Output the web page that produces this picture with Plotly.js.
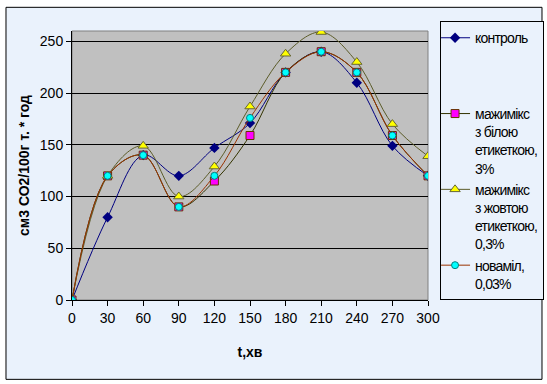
<!DOCTYPE html>
<html>
<head>
<meta charset="utf-8">
<script src="https://cdn.plot.ly/plotly-3.0.1.min.js"></script>
<style>
html,body{margin:0;padding:0;background:#fff;}
#chart{width:547px;height:384px;}
.legendtext{letter-spacing:-0.8px;}
</style>
</head>
<body>
<div id="chart"></div>
<script>
var timeMin = [0, 30, 60, 90, 120, 150, 180, 210, 240, 270, 300];
var control = [0, 80, 140, 120, 147, 171, 220, 240, 210, 149, 120];
var whiteLabel = [0, 120, 140, 90, 115, 159, 220, 240, 220, 159, 120];
var yellowLabel = [0, 120, 149, 100, 129, 187, 238, 259, 230, 170, 139];
var novamil = [0, 120, 140, 90, 120, 176, 220, 240, 220, 159, 120];
var seriesNames = [
  'контроль<br> <br> <br> ',
  'мажимікс<br>з білою<br>етикеткою,<br>3%',
  'мажимікс<br>з жовтою<br>етикеткою,<br>0,3%',
  'новамiл,<br>0,03%'
];
var xTickVals = [0, 30, 60, 90, 120, 150, 180, 210, 240, 270, 300];
var yTickVals = [0, 50, 100, 150, 200, 250];

var font = 'Liberation Sans, Arial, sans-serif';
var traces = [
  {x: timeMin, y: control, name: seriesNames[0], mode: 'lines+markers', line: {color: '#000080', width: 1, shape: 'spline', smoothing: 1},
   marker: {symbol: 'diamond', size: 8, color: '#000080'}},
  {x: timeMin, y: whiteLabel, name: seriesNames[1], mode: 'lines+markers', line: {color: '#333300', width: 1, shape: 'spline', smoothing: 1},
   marker: {symbol: 'square', size: 8, color: '#FF00FF', line: {color: '#663300', width: 1}}},
  {x: timeMin, y: yellowLabel, name: seriesNames[2], mode: 'lines+markers', line: {color: '#5C5C29', width: 1, shape: 'spline', smoothing: 1},
   marker: {symbol: 'triangle-up', size: 9, color: '#FFFF00', line: {color: '#666633', width: 1}}},
  {x: timeMin, y: novamil, name: seriesNames[3], mode: 'lines+markers', line: {color: '#993300', width: 1, shape: 'spline', smoothing: 1},
   marker: {symbol: 'circle', size: 7, color: '#00FFFF', line: {color: '#008080', width: 1}}}
];

var layout = {
  width: 547, height: 384,
  margin: {l: 72, r: 119, t: 31, b: 83.5, pad: 0, autoexpand: false},
  paper_bgcolor: '#FFFFFF',
  plot_bgcolor: '#C0C0C0',
  font: {family: font, size: 14, color: '#000'},
  showlegend: true,
  legend: {
    x: 1.326, y: 0.518, xanchor: 'right', yanchor: 'middle',
    bgcolor: '#EAF2FC', bordercolor: '#000', borderwidth: 1,
    font: {family: font, size: 14, color: '#000'},
    valign: 'top', tracegroupgap: 0, itemwidth: 30, indentation: -6, maxheight: 320
  },
  xaxis: {
    range: [0, 300], tickvals: xTickVals, ticktext: xTickVals.map(String),
    showgrid: false, zeroline: false, showline: true, linecolor: '#000', linewidth: 1,
    ticks: 'outside', ticklen: 5, tickcolor: '#000',
    tickfont: {family: font, size: 14, color: '#000'},
    title: {text: '<b>t,хв</b>', font: {family: font, size: 14, color: '#000'}, standoff: 22}
  },
  yaxis: {
    range: [0, 260], tickvals: yTickVals, ticktext: yTickVals.map(String),
    showgrid: true, gridcolor: '#000', gridwidth: 1, zeroline: false,
    showline: true, linecolor: '#000', linewidth: 1,
    ticks: 'outside', ticklen: 5, tickcolor: '#000',
    tickfont: {family: font, size: 14, color: '#000'},
    title: {text: '<b>см3 СО2/100г т. * год</b>', font: {family: font, size: 14, color: '#000'}, standoff: 6}
  },
  shapes: [
    {type: 'rect', xref: 'paper', yref: 'paper', x0: -0.1854, x1: 1.3202, y0: -0.295, y1: 1.088,
     fillcolor: '#EAF2FC', line: {color: '#000', width: 1}, layer: 'below'},
    {type: 'rect', xref: 'paper', yref: 'paper', x0: 0, x1: 1, y0: 0, y1: 1,
     fillcolor: '#C0C0C0', line: {color: '#808080', width: 1}, layer: 'below'}
  ]
};

Plotly.newPlot('chart', traces, layout, {displayModeBar: false, staticPlot: true});
</script>
</body>
</html>
